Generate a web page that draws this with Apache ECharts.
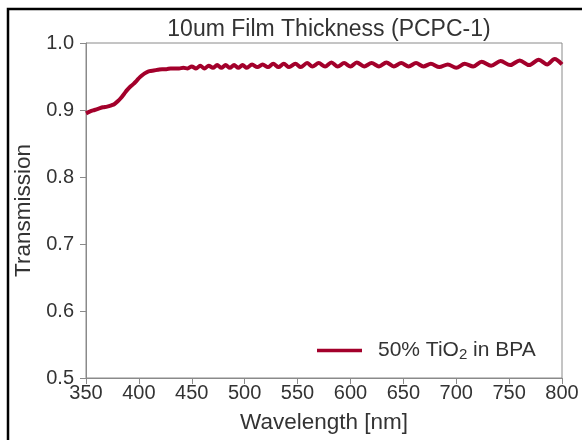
<!DOCTYPE html>
<html><head><meta charset="utf-8">
<script src="https://cdn.jsdelivr.net/npm/echarts@6/dist/echarts.min.js"></script>
<style>html,body{margin:0;padding:0;background:#fff}#c{width:582px;height:440px}</style>
</head><body><div id="c"></div>
<script>
const wavelength = [350,354,358,362,366,370,374,377,380,383,386,389,392,395,398,401,404,407,410,414,418,422,426,430,434,438,442,446,
450,454,458,462,466,470,474,478,482,486,490,494,498,502,507,512,517,522,527,532,537,542,548,553,559,564,570,576,582,588,594,600,
606,613,620,627,634,641,648,655,662,669,676,684,692,700,708,716,724,733,742,751,760,769,778,786,793,800];
const transmission = [0.895,0.898,0.900,0.902,0.904,0.905,0.907,0.909,0.913,0.918,0.924,0.930,0.935,0.939,0.944,0.949,0.953,0.956,0.958,0.959,0.960,0.961,0.961,0.962,0.962,0.962,0.963,0.962,
0.965,0.962,0.966,0.962,0.966,0.963,0.967,0.963,0.967,0.963,0.967,0.963,0.967,0.963,0.968,0.964,0.968,0.964,0.969,0.964,0.969,0.964,0.969,0.964,0.970,0.965,0.970,0.965,0.971,0.965,0.970,0.965,
0.971,0.965,0.970,0.965,0.971,0.965,0.970,0.965,0.970,0.965,0.969,0.964,0.968,0.963,0.969,0.965,0.972,0.966,0.973,0.967,0.974,0.967,0.975,0.968,0.976,0.968];
const xTicks = [350,400,450,500,550,600,650,700,750,800];
const yTicks = [0.5,0.6,0.7,0.8,0.9,1.0];
const seriesName = '50% TiO2 in BPA';
const titleText = '10um Film Thickness (PCPC-1)';

const FONT = 'Liberation Sans';
const TXT = '#333';
const AX = '#8a8a8a';
const chart = echarts.init(document.getElementById('c'), null, {renderer:'canvas'});
chart.setOption({
  backgroundColor:'#fff',
  animation:false,
  title:{text:titleText, left:324, textAlign:'center', top:13,
    textStyle:{fontFamily:FONT, fontSize:23, fontWeight:'normal', color:TXT}},
  grid:{left:86, right:20, top:43, bottom:62, show:true, borderColor:AX, borderWidth:1},
  legend:{left:312, top:335, icon:'rect', itemWidth:45, itemHeight:3.5,
    data:[seriesName],
    formatter:function(){return '50% TiO{sub|2} in BPA';},
    textStyle:{fontFamily:FONT, fontSize:21, color:TXT, padding:[0,0,0,11],
      rich:{sub:{fontFamily:FONT, fontSize:15, color:TXT, padding:[9,0,0,0]}}}},
  xAxis:{type:'value', min:350, max:800, interval:50,
    name:'Wavelength [nm]', nameLocation:'middle', nameGap:33,
    nameTextStyle:{fontFamily:FONT, fontSize:22.5, color:TXT},
    axisLine:{show:true, lineStyle:{color:AX, width:1}},
    axisTick:{show:true, length:6, lineStyle:{color:AX}},
    axisLabel:{fontFamily:FONT, fontSize:20, color:TXT, margin:5,
      formatter:function(v){return xTicks.indexOf(v)>=0? String(v):'';}},
    splitLine:{show:false}},
  yAxis:{type:'value', min:0.5, max:1.0, interval:0.1,
    name:'Transmission', nameLocation:'middle', nameGap:50,
    nameTextStyle:{fontFamily:FONT, fontSize:22.5, color:TXT},
    axisLine:{show:true, lineStyle:{color:AX, width:1}},
    axisTick:{show:true, length:6, lineStyle:{color:AX}},
    axisLabel:{fontFamily:FONT, fontSize:20, color:TXT, margin:12,
      formatter:function(v){return v.toFixed(1);}},
    splitLine:{show:false}},
  graphic:[{type:'polyline', silent:true, z:100,
    shape:{points:[[8,445],[8,9],[590,9]]},
    style:{stroke:'#000', lineWidth:2.5, fill:null}}],
  series:[{name:seriesName, type:'line', showSymbol:false, symbol:'none', smooth:0.3,
    data:wavelength.map((w,i)=>[w, transmission[i]]),
    lineStyle:{color:'#a3002b', width:4}, itemStyle:{color:'#a3002b'}}]
});
</script></body></html>
